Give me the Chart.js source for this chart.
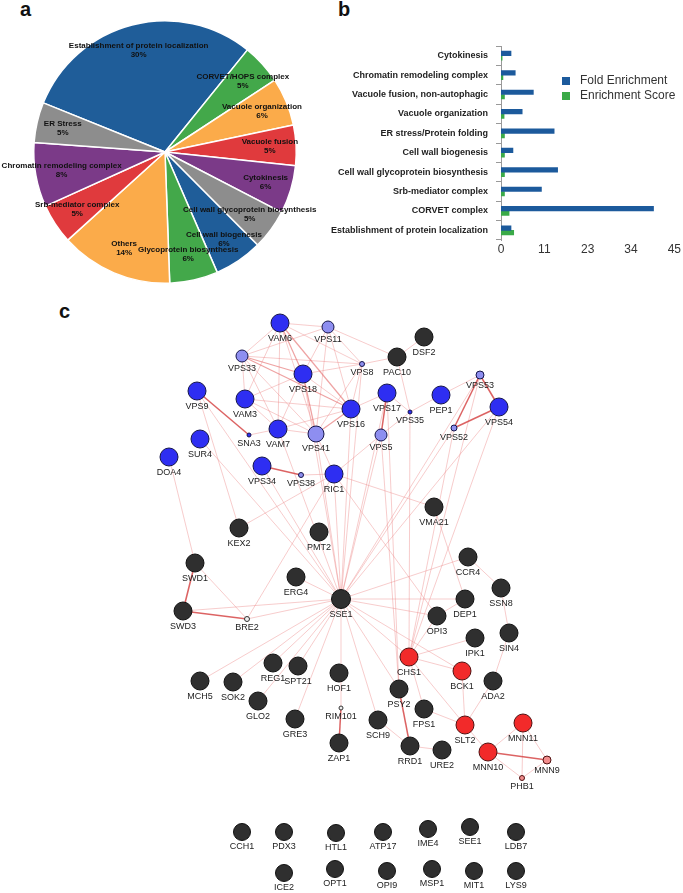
<!DOCTYPE html>
<html lang="en">
<head>
    <meta charset="UTF-8">
    <title>Enrichment and interaction network</title>
    <script src="https://cdn.jsdelivr.net/npm/chart.js"></script>
    <style>
        html, body { margin: 0; padding: 0; background: #fff; }
        body { width: 683px; height: 893px; position: relative; overflow: hidden; font-family: Arial, "Liberation Sans", sans-serif; }
        canvas { position: absolute; }
        .panel { position: absolute; font: bold 20px Arial, "Liberation Sans", sans-serif; line-height: 20px; color: #111; }
    </style>
</head>
<body>
    <div class="panel" style="left:20px; top:-1px;">a</div>
    <div class="panel" style="left:338px; top:-1px;">b</div>
    <div class="panel" style="left:59px; top:301px;">c</div>

    <canvas id="pie" width="330" height="300" style="left:0; top:0;"></canvas>
    <canvas id="bars" width="384" height="270" style="left:299px; top:0;"></canvas>
    <canvas id="net" width="683" height="593" style="left:0; top:300px;"></canvas>

    <script>
        // --- a: GO categories (percent of genes)
        const pieLabels = ['Establishment of protein localization', 'CORVET/HOPS complex', 'Vacuole organization',
            'Vacuole fusion', 'Cytokinesis', 'Cell wall glycoprotein biosynthesis', 'Cell wall biogenesis',
            'Glycoprotein biosynthesis', 'Others', 'Srb-mediator complex', 'Chromatin remodeling complex', 'ER Stress'];
        const piePercent = [30, 5, 6, 5, 6, 5, 6, 6, 14, 5, 8, 5];

        // --- b: enrichment
        const barCategories = ['Cytokinesis', 'Chromatin remodeling complex', 'Vacuole fusion, non-autophagic',
            'Vacuole organization', 'ER stress/Protein folding', 'Cell wall biogenesis',
            'Cell wall glycoprotein biosynthesis', 'Srb-mediator complex', 'CORVET complex',
            'Establishment of protein localization'];
        const foldEnrichment = [2.6, 3.7, 8.4, 5.5, 13.8, 3.1, 14.7, 10.5, 39.6, 2.6];
        const enrichmentScore = [0.3, 0.5, 0.9, 0.8, 0.9, 0.9, 0.9, 0.9, 2.1, 3.3];
        const xTickStep = 11.25;

        // --- c: network nodes (layout coordinates), group and size
        const nodeNames = ['VAM6','VPS11','VPS33','VPS8','PAC10','DSF2','VPS18','VPS9','VAM3','VPS16','VPS17','VPS35',
            'PEP1','VPS53','VPS54','VPS52','VPS5','VPS41','VAM7','SNA3','SUR4','DOA4','VPS34','VPS38','RIC1',
            'KEX2','PMT2','VMA21','SWD1','ERG4','SSE1','SWD3','BRE2','CCR4','SSN8','DEP1','OPI3','SIN4','IPK1',
            'CHS1','BCK1','ADA2','PSY2','FPS1','SLT2','MNN11','MNN10','MNN9','PHB1','SCH9','RRD1','URE2',
            'MCH5','SOK2','REG1','SPT21','HOF1','GLO2','GRE3','RIM101','ZAP1',
            'CCH1','PDX3','HTL1','ATP17','IME4','SEE1','LDB7','ICE2','OPT1','OPI9','MSP1','MIT1','LYS9'];
        const nodeX = [280,328,242,362,397,424,303,197,245,351,387,410,
            441,480,499,454,381,316,278,249,200,169,262,301,334,
            239,319,434,195,296,341,183,247,468,501,465,437,509,475,
            409,462,493,399,424,465,523,488,547,522,378,410,442,
            200,233,273,298,339,258,295,341,339,
            242,284,336,383,428,470,516,284,335,387,432,474,516];
        const nodeY = [323,327,356,364,357,337,374,391,399,409,393,412,
            395,375,407,428,435,434,429,435,439,457,466,475,474,
            528,532,507,563,577,599,611,619,557,588,599,616,633,638,
            657,671,681,689,709,725,723,752,760,778,720,746,750,
            681,682,663,666,673,701,719,708,743,
            832,832,833,832,829,827,832,873,869,871,869,871,871];
        const nodeGroup = ['B','L','L','L','K','K','B','B','B','B','B','B',
            'B','L','B','L','L','L','B','B','B','B','B','L','B',
            'K','K','K','K','K','K','K','W','K','K','K','K','K','K',
            'R','R','K','K','K','R','R','R','S','S','K','K','K',
            'K','K','K','K','K','K','K','W','K',
            'K','K','K','K','K','K','K','K','K','K','K','K','K'];
        const nodeSize = [9,6,6,2.5,9,9,9,9,9,9,9,2,
            9,4,9,3,6,8,9,2,9,9,9,2.5,9,
            9,9,9,9,9,9.5,9,2.5,9,9,9,9,9,9,
            9,9,9,9,9,9,9,9,4,2.5,9,9,9,
            9,9,9,9,9,9,9,2,9,
            8.5,8.5,8.5,8.5,8.5,8.5,8.5,8.5,8.5,8.5,8.5,8.5,8.5];

        // interactions
        const edges = [
            ['VAM6','VPS11'],['VAM6','VPS33'],['VAM6','VPS8'],['VAM6','VAM3'],['VAM6','VAM7'],['VAM6','VPS41'],
            ['VPS11','VPS33'],['VPS11','VPS18'],['VPS11','VPS16'],['VPS11','VPS41'],['VPS11','VPS8'],['VPS11','PAC10'],
            ['VPS33','VPS41'],['VPS33','VPS8'],['VPS33','VAM3'],['VPS33','VAM7'],
            ['VPS18','VPS16'],['VPS18','VPS8'],['VPS18','VAM3'],['VPS18','VAM7'],
            ['VPS16','VPS8'],['VPS16','VAM3'],['VPS16','VAM7'],['VPS16','VPS17'],
            ['VPS41','VPS8'],['VPS41','VAM3'],['VPS41','VAM7'],
            ['VAM3','VAM7'],['VAM7','SNA3'],['VPS8','PAC10'],['PAC10','DSF2'],['PAC10','VPS35'],
            ['VPS17','VPS35'],['VPS35','PEP1'],['VPS35','VPS5'],['VPS5','RIC1'],
            ['VPS53','PEP1'],['VPS38','RIC1'],['VPS41','RIC1'],
            ['RIC1','KEX2'],['RIC1','VMA21'],['RIC1','SSE1'],['RIC1','BRE2'],['RIC1','OPI3'],
            ['DOA4','SWD1'],['SWD1','BRE2'],['SWD3','SSE1'],['BRE2','SSE1'],
            ['VPS9','SSE1'],['SUR4','SSE1'],['VPS34','SSE1'],['VPS41','SSE1'],['VPS16','SSE1'],['VPS18','SSE1'],
            ['VPS8','SSE1'],['VPS5','SSE1'],['VPS17','SSE1'],['VPS53','SSE1'],['VPS52','SSE1'],['VPS54','SSE1'],
            ['VAM7','SSE1'],['ERG4','SSE1'],['KEX2','VPS9'],
            ['SSE1','CCR4'],['SSE1','OPI3'],['SSE1','DEP1'],['SSE1','CHS1'],['SSE1','BCK1'],['SSE1','PSY2'],
            ['SSE1','SCH9'],['SSE1','GRE3'],['SSE1','GLO2'],['SSE1','SPT21'],['SSE1','REG1'],['SSE1','MCH5'],
            ['SSE1','RIM101'],['SSE1','SOK2'],
            ['CCR4','SSN8'],['SSN8','SIN4'],['SIN4','ADA2'],['ADA2','SLT2'],['DEP1','OPI3'],['VMA21','DEP1'],
            ['OPI3','CHS1'],['IPK1','CHS1'],['CHS1','BCK1'],['CHS1','SLT2'],['CHS1','FPS1'],['BCK1','SLT2'],
            ['FPS1','SLT2'],['RRD1','URE2'],['RRD1','SCH9'],['SLT2','MNN10'],
            ['MNN10','MNN11'],['MNN10','PHB1'],['MNN11','PHB1'],['MNN11','MNN9'],['MNN9','PHB1'],
            ['VPS35','CHS1'],['VPS5','PSY2'],['VPS17','PSY2'],['VPS52','CHS1'],['VPS53','CHS1'],['VPS54','CHS1']
        ];
        const mediumEdges = [
            ['VAM6','VPS18'],['VAM6','VPS16'],['VPS33','VPS18'],['VPS33','VPS16'],['VPS18','VPS41'],['VPS16','VPS41']
        ];
        const strongEdges = [
            ['VPS9','SNA3'],['VPS34','VPS38'],['VPS17','VPS5'],['VPS53','VPS52'],['VPS52','VPS54'],['VPS53','VPS54'],
            ['SWD1','SWD3'],['SWD3','BRE2'],['PSY2','RRD1'],['RIM101','ZAP1'],['MNN10','MNN9']
        ];

        const FONT = 'Arial, "Liberation Sans", sans-serif';

        // ---------- a: pie ----------
        const pieColors = ['#1f5d99', '#43a84a', '#fbab4a', '#e03a3d', '#7b3a88', '#8d8d8d'];
        const pieLabelPlugin = {
            id: 'pieLabels',
            afterDatasetsDraw(chart) {
                const ctx = chart.ctx;
                const meta = chart.getDatasetMeta(0);
                ctx.save();
                ctx.font = 'bold 8px ' + FONT;
                ctx.fillStyle = '#111';
                ctx.textAlign = 'center';
                ctx.textBaseline = 'middle';
                meta.data.forEach((arc, i) => {
                    const p = arc.getProps(['x', 'y', 'startAngle', 'endAngle', 'outerRadius'], true);
                    const mid = (p.startAngle + p.endAngle) / 2;
                    const r = p.outerRadius * 0.8;
                    const x = p.x + Math.cos(mid) * r;
                    const y = p.y + Math.sin(mid) * r;
                    ctx.fillText(chart.data.labels[i], x, y - 4.5);
                    ctx.fillText(chart.data.datasets[0].data[i] + '%', x, y + 4.5);
                });
                ctx.restore();
            }
        };
        new Chart(document.getElementById('pie'), {
            type: 'pie',
            data: {
                labels: pieLabels,
                datasets: [{
                    data: piePercent,
                    backgroundColor: pieLabels.map((_, i) => pieColors[i % pieColors.length]),
                    borderColor: '#fff',
                    borderWidth: 1.5
                }]
            },
            options: {
                responsive: false,
                animation: false,
                events: [],
                rotation: -68,
                layout: { padding: { left: 33, right: 33, top: 20, bottom: 16 } },
                plugins: { legend: { display: false }, tooltip: { enabled: false } }
            },
            plugins: [pieLabelPlugin]
        });

        // ---------- b: horizontal bars ----------
        const barLegendPlugin = {
            id: 'barLegend',
            afterDraw(chart) {
                const ctx = chart.ctx;
                ctx.save();
                ctx.font = '12px ' + FONT;
                ctx.textBaseline = 'middle';
                chart.data.datasets.forEach((ds, i) => {
                    const y = 81 + i * 15;
                    ctx.fillStyle = ds.backgroundColor;
                    ctx.fillRect(263, y - 4, 8, 8);
                    ctx.fillStyle = '#333';
                    ctx.fillText(ds.label, 281, y);
                });
                ctx.restore();
            }
        };
        new Chart(document.getElementById('bars'), {
            type: 'bar',
            data: {
                labels: barCategories,
                datasets: [
                    { label: 'Fold Enrichment', data: foldEnrichment, backgroundColor: '#1c5a9c', barThickness: 4.5 },
                    { label: 'Enrichment Score', data: enrichmentScore, backgroundColor: '#3aaa48', barThickness: 4.5 }
                ]
            },
            options: {
                responsive: false,
                animation: false,
                events: [],
                indexAxis: 'y',
                layout: { padding: { left: 0, right: 7, top: 46, bottom: 0 } },
                scales: {
                    x: {
                        min: 0,
                        max: 45,
                        grid: { display: false, drawTicks: false },
                        border: { display: false },
                        ticks: {
                            stepSize: xTickStep,
                            callback: v => Math.round(v),
                            font: { size: 12, family: FONT },
                            color: '#333',
                            padding: 2
                        },
                        afterFit: s => { s.height = 30; }
                    },
                    y: {
                        grid: { display: true, drawOnChartArea: false, tickLength: 5, color: '#999', offset: true },
                        border: { display: true, color: '#999' },
                        ticks: { font: { size: 9, weight: 'bold', family: FONT }, color: '#222', padding: 8, autoSkip: false },
                        afterFit: s => { s.width = 202; }
                    }
                },
                plugins: { legend: { display: false }, tooltip: { enabled: false } }
            },
            plugins: [barLegendPlugin]
        });

        // ---------- c: network ----------
        const groupFill = { B: '#2e2ef2', L: '#8e8ef0', K: '#2f2f2f', R: '#f22a2a', S: '#f28c8c', W: '#eeeeee' };
        const groupStroke = { B: '#15154a', L: '#15154a', K: '#111111', R: '#501010', S: '#501010', W: '#333333' };
        const nodeIndex = {};
        nodeNames.forEach((n, i) => { nodeIndex[n] = i; });

        const edgePlugin = {
            id: 'edges',
            beforeDatasetsDraw(chart) {
                const ctx = chart.ctx;
                const xs = chart.scales.x, ys = chart.scales.y;
                const pt = n => [xs.getPixelForValue(nodeX[nodeIndex[n]]), ys.getPixelForValue(nodeY[nodeIndex[n]])];
                const drawSet = (list, color, width) => {
                    ctx.strokeStyle = color;
                    ctx.lineWidth = width;
                    list.forEach(([a, b]) => {
                        const p = pt(a), q = pt(b);
                        ctx.beginPath();
                        ctx.moveTo(p[0], p[1]);
                        ctx.lineTo(q[0], q[1]);
                        ctx.stroke();
                    });
                };
                ctx.save();
                drawSet(edges, 'rgba(236,128,128,0.45)', 0.9);
                drawSet(mediumEdges, 'rgba(226,100,100,0.6)', 1.2);
                drawSet(strongEdges, 'rgba(214,72,72,0.85)', 1.5);
                ctx.restore();
            }
        };
        const nodeLabelPlugin = {
            id: 'nodeLabels',
            afterDatasetsDraw(chart) {
                const ctx = chart.ctx;
                const meta = chart.getDatasetMeta(0);
                ctx.save();
                ctx.font = '9px ' + FONT;
                ctx.fillStyle = '#222';
                ctx.textAlign = 'center';
                ctx.textBaseline = 'middle';
                meta.data.forEach((p, i) => {
                    ctx.fillText(nodeNames[i], p.x, p.y + nodeSize[i] + 6.5);
                });
                ctx.restore();
            }
        };
        new Chart(document.getElementById('net'), {
            type: 'scatter',
            data: {
                datasets: [{
                    data: nodeNames.map((n, i) => ({ x: nodeX[i], y: nodeY[i] })),
                    pointRadius: nodeSize,
                    pointBackgroundColor: nodeGroup.map(g => groupFill[g]),
                    pointBorderColor: nodeGroup.map(g => groupStroke[g]),
                    pointBorderWidth: 1,
                    clip: false
                }]
            },
            options: {
                responsive: false,
                animation: false,
                events: [],
                layout: { padding: 0, autoPadding: false },
                scales: {
                    x: { type: 'linear', min: 0, max: 683, display: false },
                    y: { type: 'linear', min: 300, max: 893, reverse: true, display: false }
                },
                plugins: { legend: { display: false }, tooltip: { enabled: false } }
            },
            plugins: [edgePlugin, nodeLabelPlugin]
        });
    </script>
</body>
</html>
